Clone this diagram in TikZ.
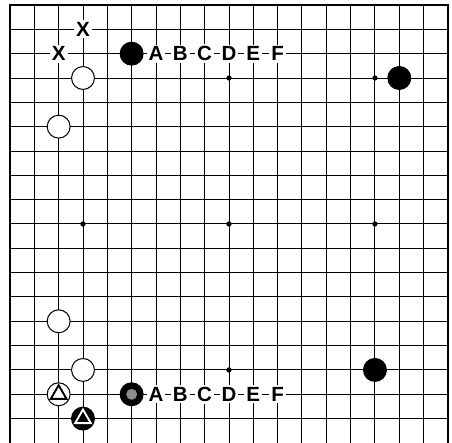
\documentclass[tikz,border=0pt]{standalone}
\usepackage{fontspec}
\setmainfont{Liberation Sans}
\usetikzlibrary{shapes.geometric}
\begin{document}
\begin{tikzpicture}[x=0.5cm,y=-0.5cm,
  gridline/.style={line width=0.55pt},
  boardedge/.style={line width=1.2pt},
  wstone/.style={circle,draw,fill=white,line width=0.6pt,minimum size=13.4pt,inner sep=0pt},
  bstone/.style={circle,draw,fill=black,line width=0.6pt,minimum size=13.4pt,inner sep=0pt},
  greydot/.style={circle,fill=black!45,minimum size=6.4pt,inner sep=0pt},
  tri/.style={regular polygon,regular polygon sides=3,draw=#1,line width=1.1pt,minimum size=10.6pt,inner sep=0pt},
  lbl/.style={fill=white,inner sep=1.2pt,font=\fontsize{12}{14}\selectfont\bfseries}]
\useasboundingbox (-0.411,-0.2055) rectangle (18.167,18);
% grid
\foreach \i in {1,...,17} \draw[gridline] (\i,0) -- (\i,18);
\foreach \j in {1,...,17} \draw[gridline] (0,\j) -- (18,\j);
\draw[boardedge] (0,18) -- (0,0) -- (18,0) -- (18,18);
% star points
\foreach \i in {3,9,15} \foreach \j in {3,9,15} \fill (\i,\j) circle (1.55pt);
% top part
\node[wstone] (w1) at (3,3) {};
\node[wstone] (w2) at (2,5) {};
\node[bstone] (b1) at (5,2) {};
\node[bstone] (b2) at (16,3) {};
\node[lbl] (x1) at (3,1) {X};
\node[lbl] (x2) at (2,2) {X};
\foreach \l [count=\i from 6] in {A,B,C,D,E,F}
  \node[lbl] (top\l) at (\i,2) {\l};
% bottom part
\node[wstone] (w3) at (2,13) {};
\node[wstone] (w4) at (3,15) {};
\node[wstone] (w5) at (2,16) {};
\node[tri=black] (t1) at (w5) {};
\node[bstone] (b3) at (3,17) {};
\node[tri=white] (t2) at (b3) {};
\node[bstone] (b4) at (5,16) {};
\node[greydot] (g1) at (b4) {};
\node[bstone] (b5) at (15,15) {};
\foreach \l [count=\i from 6] in {A,B,C,D,E,F}
  \node[lbl] (bot\l) at (\i,16) {\l};
\end{tikzpicture}
\end{document}
